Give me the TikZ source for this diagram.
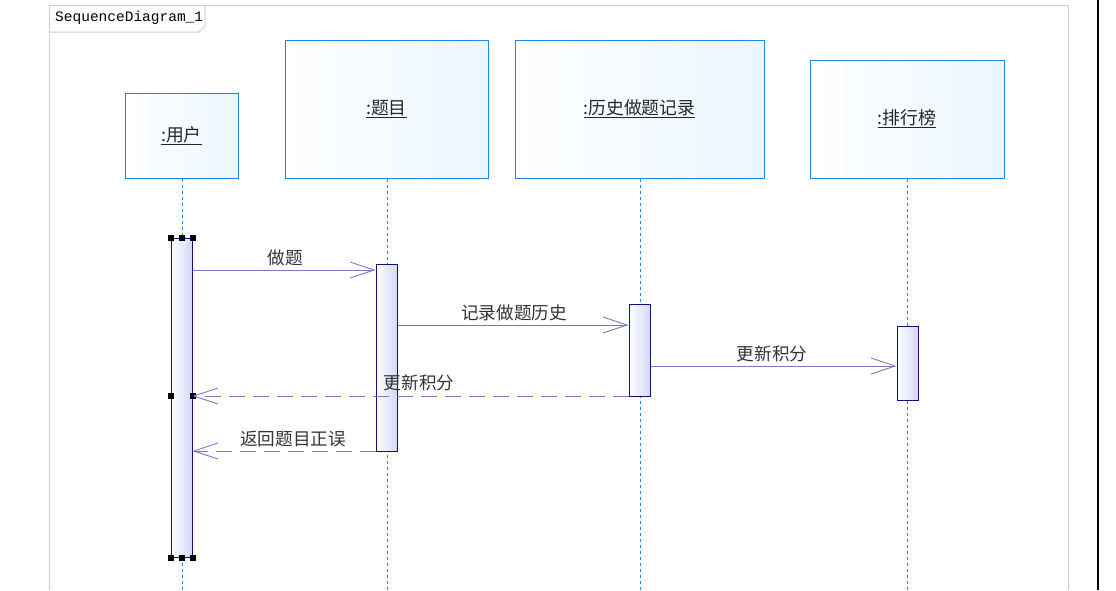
\documentclass[tikz,border=0pt]{standalone}
\usepackage{fontspec}
\newfontfamily\cjk{Noto Sans CJK SC}
\usetikzlibrary{arrows.meta}
\definecolor{framec}{HTML}{CCCCE8}
\definecolor{headb}{HTML}{1A86F0}
\definecolor{headf}{HTML}{EAF6FF}
\definecolor{lifec}{HTML}{2A8AE8}
\definecolor{actb}{HTML}{10107A}
\definecolor{actf}{HTML}{D6D6F8}
\definecolor{msgc}{HTML}{7A7AC8}
\tikzset{
  head/.style={draw=headb, line width=1pt, left color=white, right color=headf, inner sep=0pt, font=\cjk\fontsize{17.8}{20}\selectfont, text=black!85},
  life/.style={draw=lifec, line width=0.9pt, dash pattern=on 3pt off 3pt},
  act/.style={draw=actb, line width=1pt, left color=white, right color=actf, inner sep=0pt, minimum width=21pt},
  msg/.style={draw=msgc, line width=0.9pt, -{Straight Barb[length=24pt,width=16pt,line width=0.9pt]}},
  ret/.style={msg, dash pattern=on 16pt off 8pt},
  lbl/.style={font=\cjk\fontsize{17.6}{20}\selectfont, text=black!80, inner sep=0pt},
  handle/.style={fill=black, minimum size=6pt, inner sep=0pt}
}
\begin{document}
\begin{tikzpicture}[x=1pt,y=-1pt]
\useasboundingbox (0,0) rectangle (1116,590);
% frame
\draw[framec, line width=1pt] (49,590) -- (49,5) -- (1068,5) -- (1068,590);
\draw[framec, line width=1pt] (49,32) -- (199,32) -- (205,26) -- (205,5);
\node[anchor=west, font=\fontspec{Liberation Mono}\fontsize{14.5}{16}\selectfont, inner sep=0pt] (title) at (55,18) {SequenceDiagram\_1};
\draw[black, line width=1.5pt] (1098,0) -- (1098,590);
% heads
\node[head, minimum width=113pt, minimum height=85pt] (hu) at (181.5,135.5) {\underline{:用户}};
\node[head, minimum width=203pt, minimum height=138pt] (ht) at (386.5,109) {\underline{:题目}};
\node[head, minimum width=249pt, minimum height=138pt] (hh) at (639.5,109) {\underline{:历史做题记录}};
\node[head, minimum width=194pt, minimum height=118pt] (hp) at (907,119) {\underline{:排行榜}};
% lifelines
\coordinate (eu) at (182,590);
\coordinate (et) at (387,590);
\coordinate (eh) at (640,590);
\coordinate (ep) at (907,590);
\draw[life] (hu.south -| eu) -- (eu);
\draw[life] (ht.south -| et) -- (et);
\draw[life] (hh.south -| eh) -- (eh);
\draw[life] (hp.south -| ep) -- (ep);
% activations
\node[act, minimum height=319pt] (au) at (181.5,397.5) {};
\node[act, minimum height=187pt] (at) at (386.5,357.5) {};
\node[act, minimum height=92pt] (ah) at (639.5,350) {};
\node[act, minimum height=74pt] (ap) at (907.5,363) {};
% selection handles
\foreach \p in {north west, north, north east, south west, south, south east} {
  \node[handle] at (au.\p) {};
}
\node[handle] at (au.west |- 0,396) {};
\node[handle] at (au.east |- 0,396) {};
% messages
\draw[msg] (au.east |- 0,270) -- (at.west |- 0,270);
\node[lbl] (l1) at (285,258) {做题};
\draw[msg] (at.east |- 0,325) -- (ah.west |- 0,325);
\node[lbl] (l2) at (514,313) {记录做题历史};
\draw[msg] (ah.east |- 0,366) -- (ap.west |- 0,366);
\node[lbl] (l3) at (772,354) {更新积分};
\draw[ret] (ah.west |- 0,396) -- (au.east |- 0,396);
\node[lbl] (l4) at (419,383) {更新积分};
\draw[ret] (at.west |- 0,451) -- (au.east |- 0,451);
\node[lbl] (l5) at (293,439) {返回题目正误};
\end{tikzpicture}
\end{document}
